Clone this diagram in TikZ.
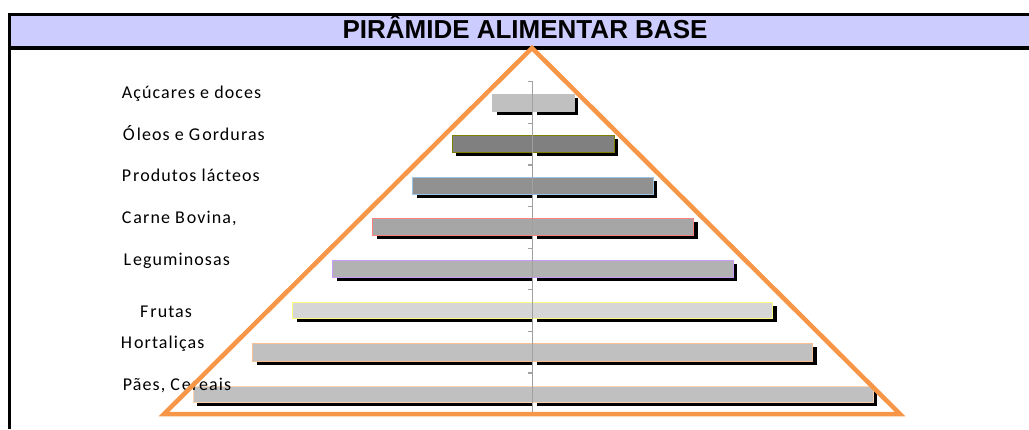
\documentclass[tikz,border=0pt]{standalone}
\usepackage{fontspec}
\setmainfont{Carlito}
\newfontfamily\titlefont{Liberation Sans}
\newfontfamily\labelfont[LetterSpace=6]{Carlito}
\definecolor{headfill}{HTML}{CCCCFF}
\definecolor{triorange}{HTML}{F79646}
\definecolor{axisgray}{HTML}{A0A0A0}
\definecolor{fA}{HTML}{C0C0C0}
\definecolor{fB}{HTML}{808080}
\definecolor{fC}{HTML}{919191}
\definecolor{fD}{HTML}{A6A6A6}
\definecolor{fE}{HTML}{B2B2B2}
\definecolor{fF}{HTML}{D6D6D6}
\definecolor{bB}{HTML}{808000}
\definecolor{bC}{HTML}{9DC3E6}
\definecolor{bD}{HTML}{FF8080}
\definecolor{bE}{HTML}{CC99FF}
\definecolor{bF}{HTML}{FFFF80}
\definecolor{bG}{HTML}{FAC090}
\definecolor{bH}{HTML}{FCD5B4}
\newcommand\pbar[6]{% top, bottom, left, right, fill, border
  \fill[black] (#3+4,#1+3.5) rectangle (532.7,#2+3.5);
  \fill[black] (536.7,#1+3.5) rectangle (#4+4,#2+3.5);
  \filldraw[fill=#5,draw=#6,line width=1] (#3,#1) rectangle (532.7,#2);
  \filldraw[fill=#5,draw=#6,line width=1] (532.7,#1) rectangle (#4,#2);
}
\newcommand\gp{\kern2pt}
\begin{document}
\begin{tikzpicture}[x=1pt,y=-1pt,
  headline/.style={line width=3pt,black},
  axisline/.style={line width=1.2pt,axisgray},
  lbl/.style={anchor=base west,inner sep=0pt,font=\labelfont\fontsize{18}{21}\selectfont},
  tri/.style={draw=triorange,line width=4.5pt,line join=miter}]
\useasboundingbox (0,0) rectangle (1029,429);
% header
\fill[headfill] (9.5,14.5) rectangle (1029,47.7);
\draw[headline] (1029,14.5) -- (9.5,14.5) -- (9.5,429);
\draw[headline,line width=4pt] (9.5,47.7) -- (1029,47.7);
\node[anchor=base,inner sep=0pt,font=\titlefont\bfseries\fontsize{26}{30}\selectfont] (title) at (525,38.3) {PIRÂMIDE ALIMENTAR BASE};
% bars
\pbar{94}{111}{492.7}{574}{fA}{fA}
\pbar{135.7}{152.7}{452.3}{614}{fB}{bB}
\pbar{177.3}{194.3}{412.7}{653}{fC}{bC}
\pbar{218.7}{235.7}{372.7}{693.7}{fD}{bD}
\pbar{260.7}{277.7}{332.7}{733.3}{fE}{bE}
\pbar{302.3}{318.7}{292.7}{772.7}{fF}{bF}
\pbar{343.7}{361}{252.7}{812.7}{fA}{bG}
\pbar{386}{402.7}{193}{873.3}{fA}{bH}
% axis
\draw[axisline] (532.7,81.7) -- (532.7,414);
\foreach \k in {0,...,7}{
  \draw[axisline] (527.5,81.7+41.6*\k) -- (532.7,81.7+41.6*\k);
}
% labels
\node[lbl] (l1) at (121.7,98.3) {Açúcares e doces};
\node[lbl] (l2) at (122.7,140) {Ó\gp leos e G\gp orduras};
\node[lbl] (l3) at (121.7,181) {P\gp rodutos lácteos};
\node[lbl] (l4) at (121.7,223.3) {C\gp arne B\gp ovina,};
\node[lbl] (l5) at (123.3,265) {L\gp eguminosas};
\node[lbl] (l6) at (140,317.7) {F\gp rutas};
\node[lbl] (l7) at (120.7,348.3) {H\gp ortaliças};
\node[lbl] (l8) at (122.7,390) {Pães, C\gp ereais};
% triangle
\draw[tri] (532,48) -- (900,414) -- (164,414) -- cycle;
\end{tikzpicture}
\end{document}
